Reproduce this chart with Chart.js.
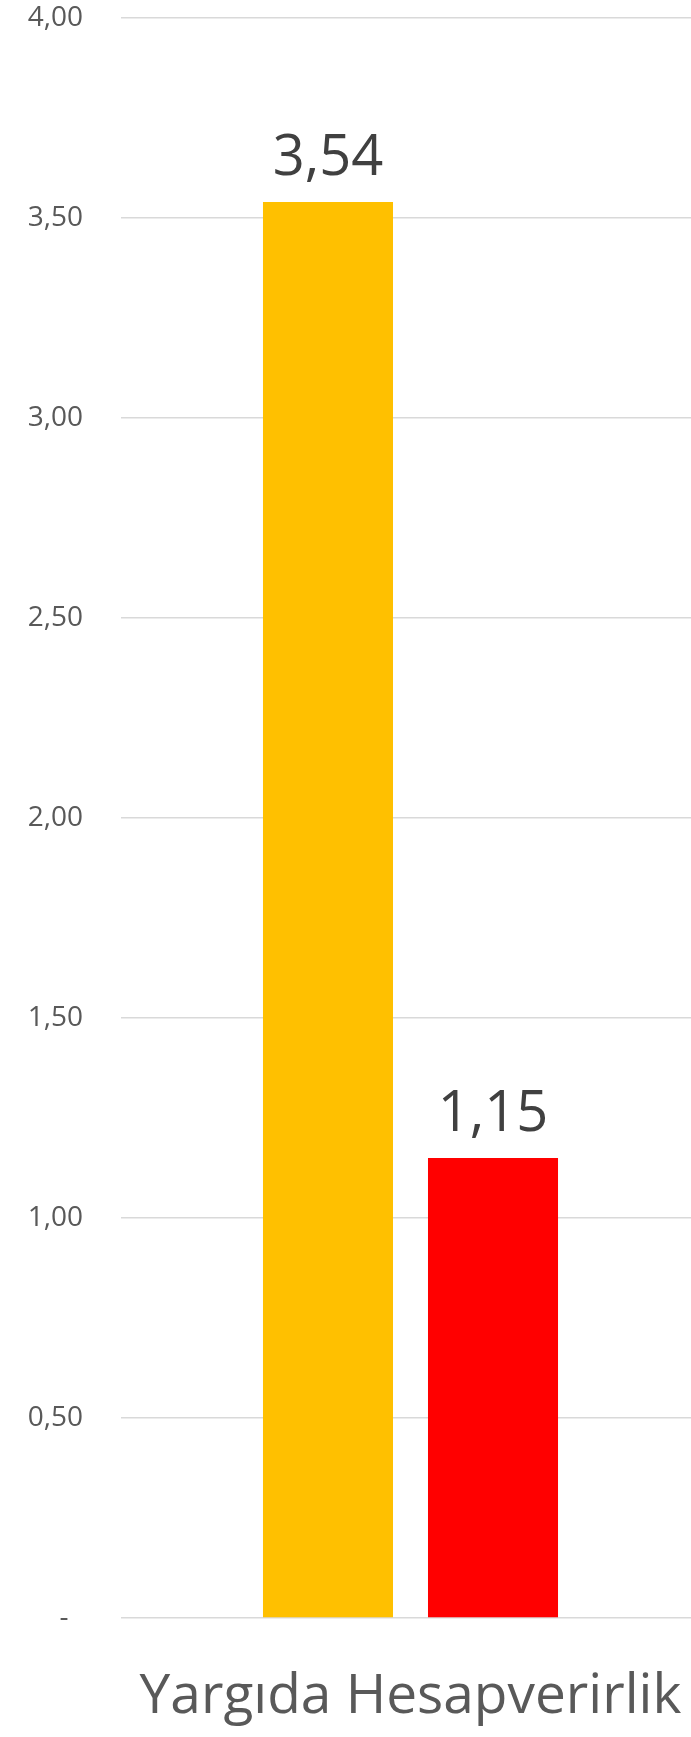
<!DOCTYPE html>
<html>
<head>
<meta charset="utf-8">
<script src="https://cdn.jsdelivr.net/npm/chart.js@4"></script>
<style>
  html, body { margin: 0; padding: 0; background: #fff; overflow: hidden; }
  #wrap { width: 700px; height: 1737px; }
</style>
</head>
<body>
<div id="wrap"><canvas id="grafico" width="700" height="1737"></canvas></div>
<script>
// valores
const categorias = ['Yargıda Hesapverirlik'];
const serie1 = [3.54];
const serie2 = [1.15];
const coresSeries = ['#FFC000', '#FF0000'];
const eixoMin = 0;
const eixoMax = 4;
const eixoPasso = 0.5;

function formatar(v) {
  return v.toFixed(2).replace('.', ',');
}

// rótulos em cima das barras
const rotulosBarras = {
  id: 'rotulosBarras',
  afterDatasetsDraw(chart) {
    const ctx = chart.ctx;
    ctx.save();
    ctx.font = '56px "Open Sans"';
    ctx.fillStyle = '#404040';
    ctx.textAlign = 'center';
    ctx.textBaseline = 'alphabetic';
    chart.data.datasets.forEach((ds, i) => {
      chart.getDatasetMeta(i).data.forEach((bar, j) => {
        ctx.fillText(formatar(ds.data[j]), bar.x, bar.y - 27);
      });
    });
    ctx.restore();
  }
};

Chart.defaults.font.family = '"Open Sans"';

let grafico = new Chart(document.getElementById('grafico'), {
  type: 'bar',
  data: {
    labels: categorias,
    datasets: [
      { label: 'Seri 1', data: serie1, backgroundColor: coresSeries[0] },
      { label: 'Seri 2', data: serie2, backgroundColor: coresSeries[1] }
    ]
  },
  options: {
    responsive: false,
    animation: false,
    devicePixelRatio: 1,
    categoryPercentage: 0.57,
    barPercentage: 0.788,
    layout: { padding: { top: 18, left: 0, right: 0, bottom: 0 } },
    plugins: {
      legend: { display: false },
      tooltip: { enabled: false }
    },
    scales: {
      x: {
        grid: { display: false, drawTicks: false },
        border: { display: false },
        ticks: { color: '#595959', font: { size: 55 }, padding: 46, maxRotation: 0 },
        afterFit: (scale) => {
          scale.height = 119;
          scale.paddingLeft = 0;
          scale.paddingRight = 0;
        }
      },
      y: {
        min: eixoMin,
        max: eixoMax,
        grid: { color: '#d9d9d9', lineWidth: 1.5, drawTicks: false },
        border: { display: false },
        ticks: {
          stepSize: eixoPasso,
          color: '#595959',
          font: { size: 28 },
          padding: 38,
          callback: (v) => v === 0 ? '-  ' : formatar(v)
        },
        afterFit: (scale) => {
          scale.width = 121;
          scale.paddingTop = 0;
          scale.paddingBottom = 0;
        }
      }
    }
  },
  plugins: [rotulosBarras]
});
</script>
</body>
</html>
